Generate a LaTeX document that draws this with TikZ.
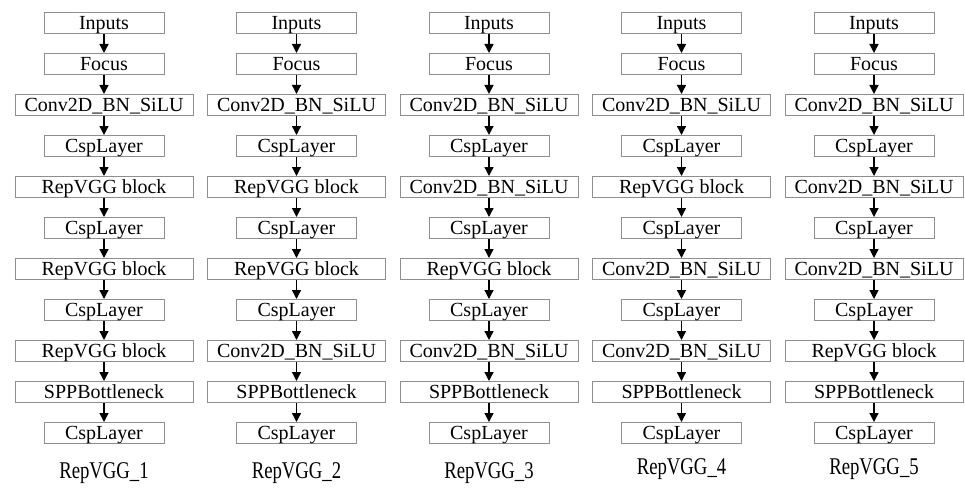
\documentclass[tikz,border=0pt]{standalone}
\usepackage{fontspec}
\setmainfont{Liberation Serif}
\usetikzlibrary{arrows.meta}
\definecolor{boxline}{HTML}{8E8E8E}
\tikzset{
  block/.style={draw=boxline, line width=1pt, inner sep=0pt, minimum height=21pt,
    font=\rmfamily\fontsize{20}{24}\selectfont, text depth=0pt, anchor=center},
  narrow/.style={block, minimum width=120pt},
  wide/.style={block, minimum width=178pt},
  flow/.style={-{Triangle[width=9pt,length=9pt]}, line width=1.3pt, black},
  caption/.style={inner sep=0pt, font=\rmfamily\fontsize{24}{28}\selectfont}
}
% one backbone column: #1 id, #2 centre x, #3 list of style/text per layer
\newcommand\netcolumn[3]{%
  \foreach [count=\r] \k/\t in {#3} {
    \node[\k] (n#1-\r) at (#2, {23+41*(\r-1)}) {\t};
  }
  \foreach \r [evaluate=\r as \s using int(\r+1)] in {1,...,10} {
    \draw[flow] (n#1-\r.south) -- (n#1-\s.north);
  }
}
\newcommand\narrowtext[1]{\scalebox{0.78}[1]{#1}}
\begin{document}
\begin{tikzpicture}[x=1pt, y=-1pt]
\useasboundingbox (0,0) rectangle (965,492);
\netcolumn{a}{104}{narrow/Inputs, narrow/Focus, wide/Conv2D\_BN\_SiLU, narrow/CspLayer,
  wide/RepVGG block, narrow/CspLayer, wide/RepVGG block, narrow/CspLayer,
  wide/RepVGG block, wide/SPPBottleneck, narrow/CspLayer}
\netcolumn{b}{296.5}{narrow/Inputs, narrow/Focus, wide/Conv2D\_BN\_SiLU, narrow/CspLayer,
  wide/RepVGG block, narrow/CspLayer, wide/RepVGG block, narrow/CspLayer,
  wide/Conv2D\_BN\_SiLU, wide/SPPBottleneck, narrow/CspLayer}
\netcolumn{c}{489}{narrow/Inputs, narrow/Focus, wide/Conv2D\_BN\_SiLU, narrow/CspLayer,
  wide/Conv2D\_BN\_SiLU, narrow/CspLayer, wide/RepVGG block, narrow/CspLayer,
  wide/Conv2D\_BN\_SiLU, wide/SPPBottleneck, narrow/CspLayer}
\netcolumn{d}{681.5}{narrow/Inputs, narrow/Focus, wide/Conv2D\_BN\_SiLU, narrow/CspLayer,
  wide/RepVGG block, narrow/CspLayer, wide/Conv2D\_BN\_SiLU, narrow/CspLayer,
  wide/Conv2D\_BN\_SiLU, wide/SPPBottleneck, narrow/CspLayer}
\netcolumn{e}{874}{narrow/Inputs, narrow/Focus, wide/Conv2D\_BN\_SiLU, narrow/CspLayer,
  wide/Conv2D\_BN\_SiLU, narrow/CspLayer, wide/Conv2D\_BN\_SiLU, narrow/CspLayer,
  wide/RepVGG block, wide/SPPBottleneck, narrow/CspLayer}
% column captions
\node[caption] (ta) at (104,473)   {\narrowtext{RepVGG\_1}};
\node[caption] (tb) at (296.5,473) {\narrowtext{RepVGG\_2}};
\node[caption] (tc) at (489,473)   {\narrowtext{RepVGG\_3}};
\node[caption] (td) at (681.5,469) {\narrowtext{RepVGG\_4}};
\node[caption] (te) at (874,469)   {\narrowtext{RepVGG\_5}};
\end{tikzpicture}
\end{document}
